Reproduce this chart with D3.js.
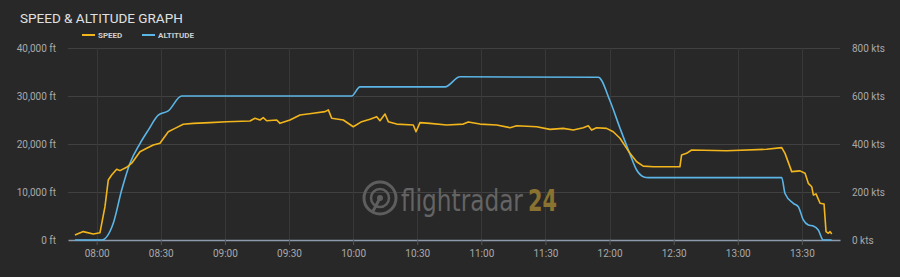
<!DOCTYPE html>
<html><head><meta charset="utf-8">
<script src="https://cdn.jsdelivr.net/npm/d3@7/dist/d3.min.js"></script>
<style>html,body{margin:0;padding:0;background:#282828;}svg{display:block;}</style>
</head><body><svg id="c" width="900" height="277"></svg>
<script>
const altTimes = ["07:49:50","08:02:20","08:07:46","08:11:42","08:15:35","08:20:16","08:24:09","08:28:50","08:33:30","08:39:47","09:59:20","10:03:13","10:43:00","10:50:00","11:54:43","12:00:11","12:04:53","12:09:33","12:12:41","12:15:46","12:18:07","13:20:33","13:22:06","13:26:00","13:28:20","13:30:40","13:33:00","13:35:20","13:37:40","13:40:00","13:43:56"];
const altValues = [0,0,3480,10400,16000,20100,22900,26000,26900,30000,30000,31900,31900,34000,33900,29000,23300,17900,14580,13200,13000,13000,9700,7650,6940,4170,3125,2900,2080,0,0];
const speedTimes = ["07:49:50","07:53:44","07:58:25","08:01:32","08:03:53","08:05:26","08:07:01","08:09:22","08:10:54","08:14:02","08:16:23","08:20:16","08:23:24","08:26:29","08:29:37","08:33:30","08:36:38","08:40:31","08:45:12","08:53:00","09:00:50","09:11:44","09:14:04","09:16:25","09:17:58","09:19:33","09:24:14","09:25:47","09:30:28","09:35:09","09:41:23","09:46:51","09:48:24","09:49:59","09:55:24","10:00:05","10:04:00","10:07:54","10:11:02","10:12:34","10:14:55","10:16:28","10:20:23","10:28:10","10:29:25","10:31:17","10:35:58","10:43:47","10:51:34","10:53:54","10:59:22","11:07:10","11:13:24","11:16:32","11:25:53","11:32:07","11:38:21","11:43:02","11:47:42","11:50:02","11:51:36","11:53:56","11:58:37","12:01:44","12:04:53","12:09:33","12:12:41","12:15:46","12:20:27","12:32:55","12:33:42","12:36:02","12:38:23","12:54:47","13:13:30","13:20:33","13:22:06","13:25:14","13:29:07","13:31:29","13:33:00","13:34:36","13:35:21","13:36:37","13:38:30","13:40:22","13:41:18","13:42:24","13:43:11","13:43:58"];
const speedValues = [21,35,25,30,139,250,271,295,289,303,320,368,382,396,403,451,465,482,486,489,493,496,507,500,510,497,500,486,500,521,528,535,542,507,500,472,493,503,514,497,525,493,483,479,451,489,486,479,483,492,483,479,468,476,472,461,465,458,468,476,458,468,465,451,424,361,326,308,305,305,354,361,375,372,378,385,361,285,288,278,236,222,188,192,153,150,35,28,35,25];
const xTickLabels = ["08:00","08:30","09:00","09:30","10:00","10:30","11:00","11:30","12:00","12:30","13:00","13:30"];
const altTicks = [0,10000,20000,30000,40000];
const speedTicks = [0,200,400,600,800];

const parse = d3.timeParse("%H:%M:%S");
const parseHM = d3.timeParse("%H:%M");
const svg = d3.select("#c");
const L = 68, R = 840, T = 48, B = 240;

const x = d3.scaleTime().domain([parse("07:46:35"), parse("13:47:50")]).range([L, R]);
const yA = d3.scaleLinear().domain([0, 40000]).range([B, T]);
const yS = d3.scaleLinear().domain([0, 800]).range([B, T]);

// horizontal grid
svg.append("g").selectAll("line").data(altTicks.slice(1)).join("line")
  .attr("x1", L).attr("x2", R).attr("y1", d => yA(d)+0.5).attr("y2", d => yA(d)+0.5)
  .attr("stroke", "#414141").attr("stroke-width", 1);
// vertical grid
const xt = xTickLabels.map(s => parseHM(s));
svg.append("g").selectAll("line").data(xt).join("line")
  .attr("x1", d => Math.round(x(d))+0.5).attr("x2", d => Math.round(x(d))+0.5)
  .attr("y1", T).attr("y2", B)
  .attr("stroke", "#383838").attr("stroke-width", 1);

// watermark
const wm = svg.append("g");
wm.append("circle").attr("cx", 380).attr("cy", 198).attr("r", 16).attr("fill", "none").attr("stroke", "#5e5e5e").attr("stroke-width", 3);
wm.append("circle").attr("cx", 380).attr("cy", 198).attr("r", 9).attr("fill", "none").attr("stroke", "#5e5e5e").attr("stroke-width", 2.5);
wm.append("circle").attr("cx", 380).attr("cy", 198).attr("r", 3).attr("fill", "#5e5e5e");
wm.append("line").attr("x1", 380).attr("y1", 198).attr("x2", 372).attr("y2", 213).attr("stroke", "#5e5e5e").attr("stroke-width", 3);
function fitText(txt, x0, width, color, bold) {
  const t = wm.append("text").attr("font-family", "'DejaVu Sans Condensed', 'Roboto', sans-serif")
    .attr("font-size", 30).attr("fill", color).attr("font-weight", bold ? "bold" : "normal").text(txt);
  const w = t.node().getComputedTextLength();
  t.attr("transform", `translate(${x0},211) scale(${width / w},1)`);
}
fitText("flightradar", 401, 122, "#646464", false);
fitText("24", 528, 29, "#8a7230", true);

// bottom axis
const xAxis = d3.axisBottom(x).tickValues(xt).tickFormat(d3.timeFormat("%H:%M")).tickSize(5).tickSizeOuter(0);
const gx = svg.append("g").attr("transform", `translate(0,${B})`).call(xAxis);
gx.select(".domain").attr("stroke", "#8c9aab").attr("stroke-width", 1.5);
gx.selectAll(".tick line").attr("stroke", "#555");
gx.selectAll(".tick text").attr("fill", "#a8a8a8").attr("font-family", "Roboto, sans-serif").attr("font-size", 10).attr("dy", "0.9em");

// left axis
const yAxisL = d3.axisLeft(yA).tickValues(altTicks).tickFormat(d => d3.format(",")(d) + " ft").tickSize(0).tickPadding(12);
const gl = svg.append("g").attr("transform", `translate(${L},0)`).call(yAxisL);
gl.select(".domain").remove();
gl.selectAll("text").attr("fill", "#a8a8a8").attr("font-family", "Roboto, sans-serif").attr("font-size", 10);

// right axis
const yAxisR = d3.axisRight(yS).tickValues(speedTicks).tickFormat(d => d + " kts").tickSize(0).tickPadding(12);
const gr = svg.append("g").attr("transform", `translate(${R},0)`).call(yAxisR);
gr.select(".domain").remove();
gr.selectAll("text").attr("fill", "#a8a8a8").attr("font-family", "Roboto, sans-serif").attr("font-size", 10);

// lines
const altData = altTimes.map((t, i) => ({t: parse(t), v: altValues[i]}));
const spdData = speedTimes.map((t, i) => ({t: parse(t), v: speedValues[i]}));
svg.append("path").datum(altData).attr("fill", "none").attr("stroke", "#5bb5e6").attr("stroke-width", 1.6)
  .attr("stroke-linejoin", "round")
  .attr("d", d3.line().x(d => x(d.t)).y(d => yA(d.v)).curve(d3.curveMonotoneX));
svg.append("path").datum(spdData).attr("fill", "none").attr("stroke", "#f2b61c").attr("stroke-width", 1.6)
  .attr("stroke-linejoin", "round")
  .attr("d", d3.line().x(d => x(d.t)).y(d => yS(d.v)));

// title
svg.append("text").attr("x", 20).attr("y", 23).attr("fill", "#e0e0e0").attr("font-family", "Roboto, sans-serif")
  .attr("font-size", 13.5).text("SPEED & ALTITUDE GRAPH");

// legend
const legend = [{name: "SPEED", color: "#f2b61c", x: 82}, {name: "ALTITUDE", color: "#5bb5e6", x: 142}];
const lg = svg.append("g").selectAll("g").data(legend).join("g").attr("transform", d => `translate(${d.x},35)`);
lg.append("line").attr("x1", 0).attr("x2", 13).attr("stroke", d => d.color).attr("stroke-width", 2);
lg.append("text").attr("x", 16).attr("y", 3).attr("fill", "#cfcfcf").attr("font-family", "Roboto, sans-serif")
  .attr("font-size", 8).attr("font-weight", "bold").text(d => d.name);
</script></body></html>
